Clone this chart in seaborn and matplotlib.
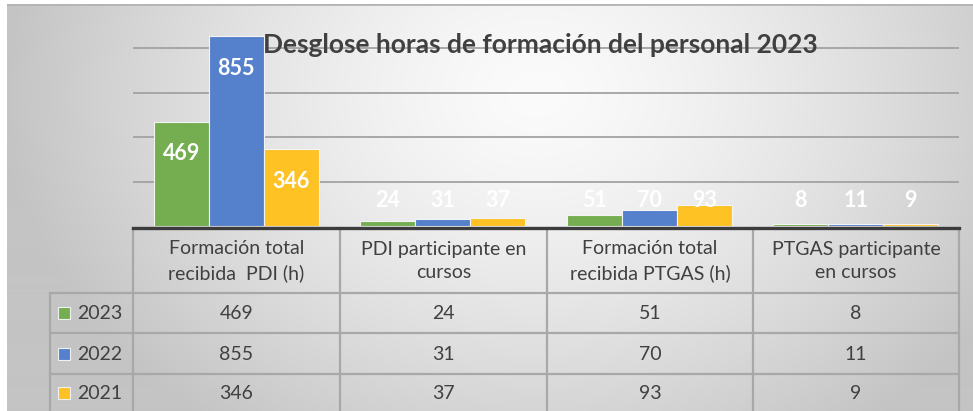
"""
Desglose horas de formación del personal 2023 - barras agrupadas con tabla de datos debajo.
"""

import numpy as np
import pandas as pd
import matplotlib.pyplot as plt
from matplotlib.patches import Rectangle
import seaborn as sns

# datos
categorias = ['Formación total\nrecibida  PDI (h)', 'PDI participante en\ncursos',
              'Formación total\nrecibida PTGAS (h)', 'PTGAS participante\nen cursos']
anios = ['2023', '2022', '2021']
v2023 = [469, 24, 51, 8]
v2022 = [855, 31, 70, 11]
v2021 = [346, 37, 93, 9]
colores = ['#74AE50', '#5580CB', '#FEC224']
titulo = 'Desglose horas de formación del personal 2023'

series = [v2023, v2022, v2021]
df = pd.DataFrame({
    'categoria': [c for _ in anios for c in categorias],
    'anio': [a for a in anios for _ in categorias],
    'valor': [v for s in series for v in s],
})

plt.rcParams['font.family'] = ['Lato', 'DejaVu Sans']
W, H = 973, 411
fig = plt.figure(figsize=(W / 100, H / 100), dpi=100)
fig.patch.set_facecolor('white')

# fondo con degradado radial
bg = fig.add_axes([7 / W, 0, 1 - 7 / W, (H - 4) / H], zorder=0)
yy, xx = np.mgrid[0:H - 4, 0:W - 7]
d = np.sqrt(((xx - 530) / 540.0) ** 2 + ((yy - 90) / 420.0) ** 2)
g = np.clip(251 - 56 * d ** 1.4, 196, 251) / 255.0
bg.imshow(np.dstack([g, g, g]), aspect='auto', extent=[0, 1, 0, 1])
bg.axhline(1, color='#b4b4b4', lw=2)
bg.set_axis_off()

# barras
ax = fig.add_axes([133 / W, (H - 226) / H, 826 / W, 222 / H], zorder=1)
ax.patch.set_alpha(0)
sns.barplot(data=df, x='categoria', y='valor', hue='anio', palette=colores,
            width=0.8, saturation=1, edgecolor='#f4f4f4', linewidth=0.8,
            legend=False, ax=ax, zorder=3)
ax.set_ylim(0, 1000)
ax.set_xlim(-0.5, 3.5)
ax.set_yticks([200, 400, 600, 800])
ax.yaxis.grid(True, color='#a2a2a2', lw=1.3)
ax.set_axisbelow(True)
ax.tick_params(length=0, labelleft=False, labelbottom=False)
ax.set_xlabel('')
ax.set_ylabel('')
for s in ax.spines.values():
    s.set_visible(False)

# etiquetas de datos
for cont, vals in zip(ax.containers, series):
    for bar, v in zip(cont, vals):
        ax.text(bar.get_x() + bar.get_width() / 2, max(v - 144, 117), str(v),
                ha='center', va='center', color='white', fontsize=15.5,
                fontweight='bold', zorder=5)

fig.text(540 / W, 1 - 45 / H, titulo, ha='center', va='center',
         fontsize=19, fontweight='bold', color='#404040', zorder=6)

# tabla de datos
tb = fig.add_axes([0, 0, 1, 1], zorder=2)
tb.set_xlim(0, W)
tb.set_ylim(H, 0)
tb.set_axis_off()
tb.patch.set_alpha(0)

cols = [133, 340, 547, 753, 959]
rows = [293, 333, 374]
gris = '#a8a8a8'
for x in cols:
    tb.plot([x, x], [228, H], color=gris, lw=1.6)
tb.plot([50, 50], [293, H], color=gris, lw=1.6)
for y in rows:
    tb.plot([50, 959], [y, y], color=gris, lw=1.6)
tb.plot([133, 959], [228, 228], color='#3c3c3c', lw=2.4)

for i, c in enumerate(categorias):
    xc = (cols[i] + cols[i + 1]) / 2
    tb.text(xc, 261, c, ha='center', va='center', fontsize=14,
            color='#404040', linespacing=1.45)

centros = [313, 354, 393]
for anio, vals, col, yc in zip(anios, series, colores, centros):
    tb.add_patch(Rectangle((58, yc - 6), 12, 12, facecolor=col,
                           edgecolor='#f0f0f0', lw=0.8))
    tb.text(77, yc, anio, ha='left', va='center', fontsize=14, color='#404040')
    for i, v in enumerate(vals):
        xc = (cols[i] + cols[i + 1]) / 2
        tb.text(xc, yc, str(v), ha='center', va='center', fontsize=14,
                color='#404040')

fig.savefig('out.png', dpi=100)
